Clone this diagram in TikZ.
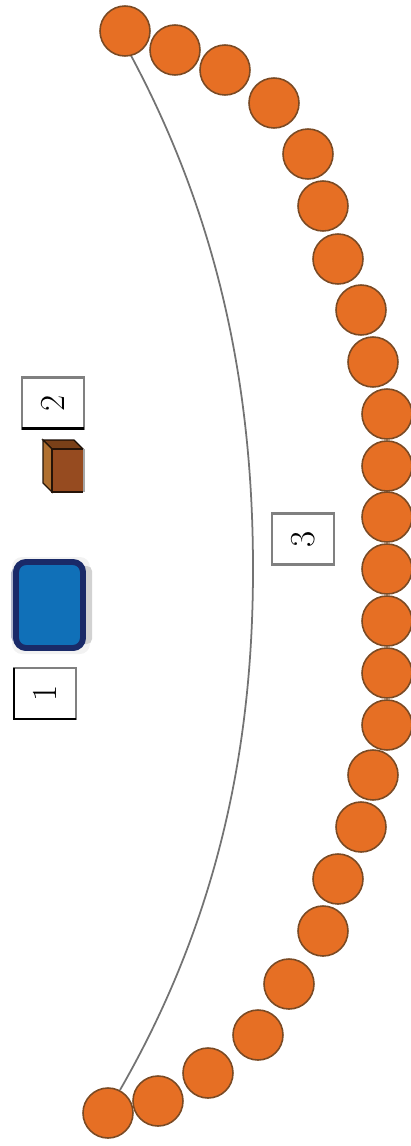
\documentclass[tikz,border=0pt]{standalone}
\usepackage{tikz}
\usetikzlibrary{positioning, calc}

\definecolor{discfill}{HTML}{E66F24}
\definecolor{discedge}{HTML}{7A4A24}
\definecolor{padfill}{HTML}{1070B8}
\definecolor{padedge}{HTML}{1A2A68}
\definecolor{cubefront}{HTML}{964B20}
\definecolor{cubeside}{HTML}{B07030}
\definecolor{cubetop}{HTML}{7A4018}

\tikzset{
  disc/.style={circle, draw=discedge, fill=discfill, line width=0.9pt, minimum size=1cm, inner sep=0pt},
  tag/.style={draw=gray, fill=white, line width=1.4pt, rotate=90, minimum width=1.02cm, minimum height=1.25cm,
    inner sep=0pt, outer sep=0pt, font=\fontsize{20}{20}\selectfont},
  tagedge/.style={black, line width=1.4pt},
  pad/.style={rounded corners=0.2cm, draw=padedge, fill=padfill, line width=3.4pt}
}

\begin{document}
\begin{tikzpicture}[x=0.02cm, y=-0.02cm]

% --- Page ---
\useasboundingbox (0, 0) rectangle (411, 1146);

% --- Arc behind the discs ---
\coordinate (arctop) at (128, 50);
\coordinate (arcmid) at (253, 569);
\coordinate (arcbot) at (120, 1090);
\draw[gray!90!black, line width=1pt]
  (arctop) .. controls (222, 223) and (253, 396) ..
  (arcmid) .. controls (253, 743) and (220, 916) ..
  (arcbot);

% --- Discs ---
\foreach \n/\x/\y in {1/125/31, 2/175/50, 3/225/70, 4/274/103, 5/308/154,
  6/323/206, 7/338/259, 8/361/310, 9/373/362, 10/387/414, 11/387/466,
  12/387/517, 13/387/569, 14/387/621, 15/387/673, 16/387/725, 17/373/775,
  18/361/827, 19/338/879, 20/323/931, 21/289/984, 22/258/1035, 23/208/1073,
  24/158/1101, 25/108/1113} {
  \node[disc] (disc\n) at (\x, \y) {};
}

% --- Blue pad ---
\fill[gray!10, rounded corners=0.2cm] (12, 557) rectangle (90, 654);
\fill[gray!35, rounded corners=0.1cm] (80, 566) rectangle (92, 644);
\fill[padedge!35, rounded corners=0.1cm] (11, 568) rectangle (20, 642);
\draw[pad] (16, 562) rectangle (83, 648);

% --- Cube ---
\fill[cubetop, draw=black!80!cubetop, line width=0.8pt] (43, 440) -- (74, 440) -- (83, 449) -- (52, 449) -- cycle;
\fill[cubeside, draw=black!80!cubeside, line width=0.8pt] (43, 440) -- (52, 449) -- (52, 492) -- (43, 483) -- cycle;
\fill[cubefront] (52, 449) rectangle (83, 492);
\draw[black!75!cubefront, line width=0.8pt] (83, 449) -- (52, 449) -- (52, 492) -- (83, 492);
\draw[gray!70, line width=0.8pt] (84, 449) -- (84, 492);

% --- Tags ---
\node[tag] (tagone) at (45, 693.5) {1};
\node[tag] (tagtwo) at (53, 403) {2};
\node[tag] (tagthree) at (303, 539) {3};
\draw[tagedge] (tagone.north east) -- (tagone.north west) -- (tagone.south west);
\draw[tagedge] (tagtwo.north west) -- (tagtwo.south west);

\end{tikzpicture}
\end{document}
